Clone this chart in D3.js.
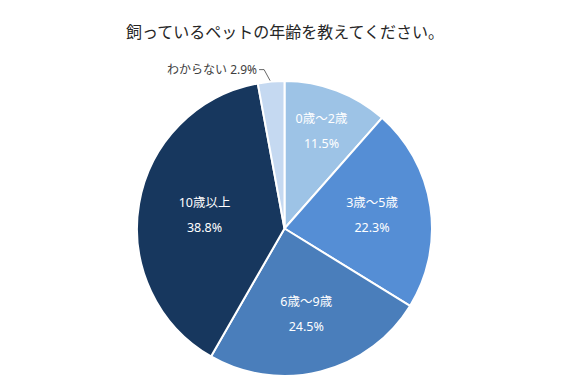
<!DOCTYPE html>
<html><head><meta charset="utf-8">
<script src="https://cdn.jsdelivr.net/npm/d3@7"></script>
<style>body{margin:0;background:#fff}svg{display:block}</style>
</head><body>
<svg id="c" width="567" height="385"></svg>
<script>
const title = "飼っているペットの年齢を教えてください。";
const categories = ["0歳～2歳", "3歳～5歳", "6歳～9歳", "10歳以上", "わからない"];
const values = [11.5, 22.3, 24.5, 38.8, 2.9];
const colors = ["#9DC3E6", "#558ED5", "#4A7EBB", "#17375E", "#C5D9F1"];

const W = 567, H = 385, cx = 284.5, cy = 228.5, R = 147.5;
const font = "'Noto Sans', 'Noto Sans CJK JP', sans-serif";
const svg = d3.select("#c");

svg.append("text").attr("x", 285).attr("y", 38).attr("text-anchor", "middle")
  .attr("font-family", font).attr("font-size", 16).attr("fill", "#262626").text(title);

const pie = d3.pie().sort(null).value(d => d)(values);
const arc = d3.arc().innerRadius(0).outerRadius(R);
const g = svg.append("g").attr("transform", `translate(${cx},${cy})`);
g.selectAll("path").data(pie).join("path")
  .attr("d", arc).attr("fill", (d, i) => colors[i])
  .attr("stroke", "#fff").attr("stroke-width", 2).attr("stroke-linejoin", "round");

const labelR = [0.71, 0.6, 0.6, 0.55];
pie.forEach((d, i) => {
  if (i > 3) return;
  const a = (d.startAngle + d.endAngle) / 2;
  const r = R * labelR[i];
  const x = Math.sin(a) * r, y = -Math.cos(a) * r;
  const t = g.append("text").attr("text-anchor", "middle")
    .attr("font-family", font).attr("font-size", 12.5).attr("fill", "#fff");
  t.append("tspan").attr("x", x).attr("y", y - 8).text(categories[i]);
  t.append("tspan").attr("x", x).attr("y", y + 17).text(values[i].toFixed(1) + "%");
});

// outside label for the small slice
const d4 = pie[4];
const a4 = (d4.startAngle + d4.endAngle) / 2;
const px = Math.sin(a4) * R, py = -Math.cos(a4) * R;
g.append("path").attr("fill", "none").attr("stroke", "#404040").attr("stroke-width", 0.8)
  .attr("d", `M${px - 1},${py - 1} L${px - 7},${py - 12} L${px - 12},${py - 12}`);
g.append("text").attr("x", px - 14).attr("y", py - 8).attr("text-anchor", "end")
  .attr("font-family", font).attr("font-size", 12).attr("fill", "#404040")
  .text(categories[4] + " " + values[4].toFixed(1) + "%");
</script>
</body></html>
